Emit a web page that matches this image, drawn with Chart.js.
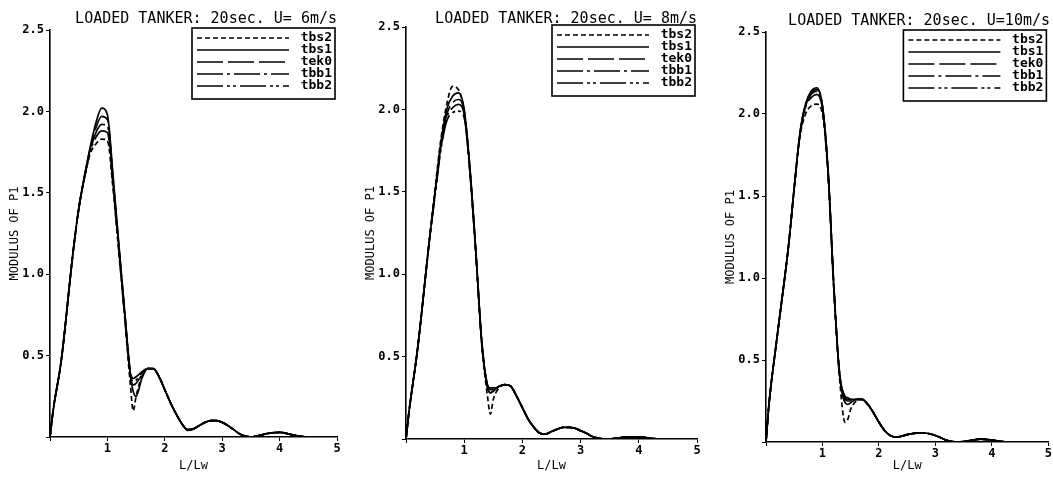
<!DOCTYPE html>
<html>
<head>
<meta charset="utf-8">
<script src="https://cdn.jsdelivr.net/npm/chart.js@4.4.1/dist/chart.umd.min.js"></script>
<style>
  body { margin: 0; background: #fff; width: 1053px; height: 477px; position: relative; overflow: hidden; }
  .panel { position: absolute; top: 0; height: 477px; }
</style>
</head>
<body>
<div class="panel" style="left:0;width:342px"><canvas id="c1"></canvas></div>
<div class="panel" style="left:356px;width:346px"><canvas id="c2"></canvas></div>
<div class="panel" style="left:716px;width:337px"><canvas id="c3"></canvas></div>
<script>
// L/Lw sample points (shared by every curve)
const lw = [0, 0.05, 0.2, 0.4, 0.5, 0.6, 0.7, 0.8, 0.9, 1.0, 1.1, 1.2, 1.3, 1.4, 1.45, 1.5, 1.6, 1.7, 1.8, 1.9,
            2.0, 2.1, 2.2, 2.3, 2.4, 2.5, 2.6, 2.7, 2.8, 2.9, 3.0, 3.1, 3.2, 3.3, 3.4, 3.5, 3.6, 3.8, 4.0, 4.2,
            4.4, 4.6, 4.8, 5.0];

const seriesNames = ['tbs2', 'tbs1', 'tek0', 'tbb1', 'tbb2'];
const xTickLabels = ['', '1', '2', '3', '4', '5'];
const yTickLabels = ['', '0.5', '1.0', '1.5', '2.0', '2.5'];
const titles = ['LOADED TANKER: 20sec. U= 6m/s', 'LOADED TANKER: 20sec. U= 8m/s', 'LOADED TANKER: 20sec. U=10m/s'];

// U = 6 m/s
const u6_tbs2 = [0, 0.15, 0.48, 1.13, 1.4, 1.59, 1.74, 1.80, 1.83, 1.82, 1.52, 1.13, 0.74, 0.32, 0.16, 0.25, 0.37, 0.42, 0.42, 0.37,
                 0.29, 0.21, 0.14, 0.08, 0.045, 0.05, 0.07, 0.09, 0.10, 0.10, 0.09, 0.07, 0.045, 0.02, 0.005, 0, 0.005, 0.022, 0.028, 0.015,
                 0.002, 0, 0, 0];
const u6_tbs1 = [0, 0.15, 0.48, 1.13, 1.4, 1.60, 1.78, 1.93, 2.02, 1.98, 1.60, 1.18, 0.78, 0.38, 0.28, 0.25, 0.36, 0.42, 0.42, 0.37,
                 0.29, 0.21, 0.14, 0.08, 0.04, 0.05, 0.07, 0.09, 0.10, 0.10, 0.09, 0.07, 0.045, 0.02, 0.005, 0, 0.005, 0.022, 0.028, 0.015,
                 0.002, 0, 0, 0];
const u6_tek0 = [0, 0.15, 0.48, 1.13, 1.4, 1.60, 1.77, 1.90, 1.97, 1.95, 1.58, 1.17, 0.77, 0.40, 0.36, 0.37, 0.40, 0.42, 0.42, 0.37,
                 0.29, 0.21, 0.14, 0.08, 0.045, 0.05, 0.07, 0.09, 0.10, 0.10, 0.09, 0.07, 0.045, 0.02, 0.005, 0, 0.005, 0.022, 0.028, 0.015,
                 0.002, 0, 0, 0];
const u6_tbb1 = [0, 0.15, 0.48, 1.13, 1.4, 1.60, 1.76, 1.87, 1.92, 1.91, 1.56, 1.16, 0.76, 0.39, 0.34, 0.35, 0.39, 0.42, 0.42, 0.37,
                 0.29, 0.21, 0.14, 0.08, 0.045, 0.05, 0.07, 0.09, 0.10, 0.10, 0.09, 0.07, 0.045, 0.02, 0.005, 0, 0.005, 0.022, 0.028, 0.015,
                 0.002, 0, 0, 0];
const u6_tbb2 = [0, 0.15, 0.48, 1.13, 1.4, 1.59, 1.75, 1.84, 1.88, 1.87, 1.54, 1.15, 0.75, 0.38, 0.32, 0.33, 0.38, 0.42, 0.42, 0.37,
                 0.29, 0.21, 0.14, 0.08, 0.045, 0.05, 0.07, 0.09, 0.10, 0.10, 0.09, 0.07, 0.045, 0.02, 0.005, 0, 0.005, 0.022, 0.028, 0.015,
                 0.002, 0, 0, 0];

// U = 8 m/s
const u8_tbs2 = [0, 0.16, 0.55, 1.2, 1.52, 1.82, 2.03, 2.14, 2.12, 1.98, 1.62, 1.12, 0.58, 0.26, 0.15, 0.24, 0.31, 0.33, 0.32, 0.26,
                 0.19, 0.12, 0.07, 0.035, 0.03, 0.045, 0.06, 0.07, 0.07, 0.065, 0.05, 0.035, 0.015, 0.005, 0, 0, 0.004, 0.013, 0.013, 0.004,
                 0, 0, 0, 0];
const u8_tbs1 = [0, 0.16, 0.55, 1.2, 1.50, 1.80, 2.00, 2.08, 2.10, 2.00, 1.64, 1.14, 0.60, 0.32, 0.28, 0.29, 0.32, 0.33, 0.32, 0.26,
                 0.19, 0.12, 0.07, 0.035, 0.03, 0.045, 0.06, 0.07, 0.07, 0.065, 0.05, 0.035, 0.015, 0.005, 0, 0, 0.004, 0.013, 0.013, 0.004,
                 0, 0, 0, 0];
const u8_tek0 = [0, 0.16, 0.55, 1.2, 1.50, 1.78, 1.97, 2.04, 2.06, 1.99, 1.63, 1.14, 0.60, 0.33, 0.31, 0.31, 0.32, 0.33, 0.32, 0.26,
                 0.19, 0.12, 0.07, 0.035, 0.03, 0.045, 0.06, 0.07, 0.07, 0.065, 0.05, 0.035, 0.015, 0.005, 0, 0, 0.004, 0.013, 0.013, 0.004,
                 0, 0, 0, 0];
const u8_tbb1 = [0, 0.16, 0.55, 1.2, 1.49, 1.77, 1.95, 2.01, 2.03, 1.97, 1.62, 1.13, 0.59, 0.32, 0.30, 0.30, 0.32, 0.33, 0.32, 0.26,
                 0.19, 0.12, 0.07, 0.035, 0.03, 0.045, 0.06, 0.07, 0.07, 0.065, 0.05, 0.035, 0.015, 0.005, 0, 0, 0.004, 0.013, 0.013, 0.004,
                 0, 0, 0, 0];
const u8_tbb2 = [0, 0.16, 0.55, 1.2, 1.48, 1.76, 1.93, 1.98, 1.99, 1.95, 1.61, 1.13, 0.59, 0.31, 0.28, 0.29, 0.32, 0.33, 0.32, 0.26,
                 0.19, 0.12, 0.07, 0.035, 0.03, 0.045, 0.06, 0.07, 0.07, 0.065, 0.05, 0.035, 0.015, 0.005, 0, 0, 0.004, 0.013, 0.013, 0.004,
                 0, 0, 0, 0];

// U = 10 m/s
const u10_tbs2 = [0, 0.22, 0.65, 1.2, 1.55, 1.86, 2.00, 2.05, 2.06, 2.00, 1.62, 0.93, 0.40, 0.12, 0.14, 0.20, 0.25, 0.26, 0.23, 0.18,
                  0.12, 0.07, 0.04, 0.03, 0.035, 0.045, 0.052, 0.056, 0.055, 0.05, 0.04, 0.025, 0.01, 0.002, 0, 0.003, 0.008, 0.018, 0.012, 0.002,
                  0, 0, 0, 0];
const u10_tbs1 = [0, 0.22, 0.65, 1.2, 1.55, 1.88, 2.06, 2.14, 2.16, 2.05, 1.65, 0.95, 0.42, 0.24, 0.23, 0.24, 0.26, 0.26, 0.23, 0.18,
                  0.12, 0.07, 0.04, 0.03, 0.035, 0.045, 0.052, 0.056, 0.055, 0.05, 0.04, 0.025, 0.01, 0.002, 0, 0.003, 0.008, 0.018, 0.012, 0.002,
                  0, 0, 0, 0];
const u10_tek0 = [0, 0.22, 0.65, 1.2, 1.55, 1.88, 2.06, 2.13, 2.15, 2.05, 1.65, 0.96, 0.43, 0.28, 0.27, 0.26, 0.26, 0.26, 0.23, 0.18,
                  0.12, 0.07, 0.04, 0.03, 0.035, 0.045, 0.052, 0.056, 0.055, 0.05, 0.04, 0.025, 0.01, 0.002, 0, 0.003, 0.008, 0.018, 0.012, 0.002,
                  0, 0, 0, 0];
const u10_tbb1 = [0, 0.22, 0.65, 1.2, 1.55, 1.87, 2.05, 2.12, 2.14, 2.04, 1.64, 0.96, 0.43, 0.27, 0.26, 0.26, 0.26, 0.26, 0.23, 0.18,
                  0.12, 0.07, 0.04, 0.03, 0.035, 0.045, 0.052, 0.056, 0.055, 0.05, 0.04, 0.025, 0.01, 0.002, 0, 0.003, 0.008, 0.018, 0.012, 0.002,
                  0, 0, 0, 0];
const u10_tbb2 = [0, 0.22, 0.65, 1.2, 1.55, 1.87, 2.04, 2.10, 2.12, 2.03, 1.64, 0.95, 0.42, 0.26, 0.25, 0.25, 0.26, 0.26, 0.23, 0.18,
                  0.12, 0.07, 0.04, 0.03, 0.035, 0.045, 0.052, 0.056, 0.055, 0.05, 0.04, 0.025, 0.01, 0.002, 0, 0.003, 0.008, 0.018, 0.012, 0.002,
                  0, 0, 0, 0];

const panelSeries = [
    [u6_tbs2, u6_tbs1, u6_tek0, u6_tbb1, u6_tbb2],
    [u8_tbs2, u8_tbs1, u8_tek0, u8_tbb1, u8_tbb2],
    [u10_tbs2, u10_tbs1, u10_tek0, u10_tbb1, u10_tbb2]
];

// line styles per series, same order as seriesNames
const dashes = [[5, 3], [], [26, 5], [26, 4, 3, 4], [26, 4, 3, 3, 3, 4]];

// per-panel layout tweaks (title gap, x axis height, right padding)
const layouts = [
    { titleTop: 12, titleBottom: 3, xAxisH: 40, padRight: 5 },
    { titleTop: 12, titleBottom: 0, xAxisH: 38, padRight: 5 },
    { titleTop: 14, titleBottom: 3, xAxisH: 35, padRight: 3 }
];

const mono = 'DejaVu Sans Mono';

// boxed legend in the top right corner of the plot
const legendBox = {
    id: 'legendBox',
    afterDatasetsDraw(chart) {
        const { ctx, chartArea } = chart;
        const w = 143, h = 71;
        const x0 = chartArea.right - w - 2;
        const y0 = chartArea.top - 2;
        ctx.save();
        ctx.fillStyle = '#fff';
        ctx.fillRect(x0, y0, w, h);
        ctx.strokeStyle = '#000';
        ctx.lineWidth = 1.6;
        ctx.strokeRect(x0, y0, w, h);
        ctx.font = 'bold 13px "' + mono + '"';
        ctx.textAlign = 'right';
        ctx.textBaseline = 'middle';
        chart.data.datasets.forEach((ds, i) => {
            const y = y0 + 10 + i * 12;
            ctx.lineWidth = 1.6;
            ctx.setLineDash(ds.borderDash);
            ctx.beginPath();
            ctx.moveTo(x0 + 5, y);
            ctx.lineTo(x0 + 97, y);
            ctx.stroke();
            ctx.setLineDash([]);
            ctx.fillStyle = '#000';
            ctx.fillText(ds.label, x0 + w - 3, y);
        });
        ctx.restore();
    }
};

function makePanel(canvasId, idx) {
    const lay = layouts[idx];
    const datasets = panelSeries[idx].map((vals, i) => ({
        label: seriesNames[i],
        data: lw.map((x, k) => ({ x: x, y: vals[k] })),
        borderColor: '#000',
        borderWidth: 1.7,
        borderDash: dashes[i],
        pointRadius: 0,
        fill: false,
        cubicInterpolationMode: 'monotone'
    }));

    new Chart(document.getElementById(canvasId), {
        type: 'line',
        data: { datasets },
        options: {
            responsive: true,
            maintainAspectRatio: false,
            animation: false,
            layout: { padding: { left: 0, right: lay.padRight, top: 0, bottom: 0 } },
            plugins: {
                legend: { display: false },
                tooltip: { enabled: false },
                title: {
                    display: true,
                    text: titles[idx],
                    align: 'end',
                    color: '#000',
                    font: { family: mono, size: 15, weight: 'normal', lineHeight: 1 },
                    padding: { top: lay.titleTop, bottom: lay.titleBottom }
                }
            },
            scales: {
                x: {
                    type: 'linear',
                    min: 0,
                    max: 5,
                    afterFit: s => { s.height = lay.xAxisH; },
                    ticks: {
                        stepSize: 1,
                        color: '#000',
                        padding: 1,
                        maxRotation: 0,
                        font: { family: mono, size: 12, weight: 'bold' },
                        callback: (v, i) => xTickLabels[i]
                    },
                    grid: { drawOnChartArea: false, drawTicks: true, tickLength: 4, tickColor: '#000' },
                    border: { display: true, color: '#000', width: 1.6 },
                    title: {
                        display: true,
                        text: 'L/Lw',
                        color: '#000',
                        font: { family: mono, size: 12 },
                        padding: { top: 0, bottom: 4 }
                    }
                },
                y: {
                    min: 0,
                    max: 2.5,
                    afterFit: s => { s.width = 50; },
                    ticks: {
                        stepSize: 0.5,
                        color: '#000',
                        padding: 2,
                        font: { family: mono, size: 12, weight: 'bold' },
                        callback: (v, i) => yTickLabels[i]
                    },
                    grid: { drawOnChartArea: false, drawTicks: true, tickLength: 4, tickColor: '#000' },
                    border: { display: true, color: '#000', width: 1.6 },
                    title: {
                        display: true,
                        text: 'MODULUS OF P1',
                        color: '#000',
                        font: { family: mono, size: 12 },
                        padding: { top: 8, bottom: 0 }
                    }
                }
            }
        },
        plugins: [legendBox]
    });
}

makePanel('c1', 0);
makePanel('c2', 1);
makePanel('c3', 2);
</script>
</body>
</html>
